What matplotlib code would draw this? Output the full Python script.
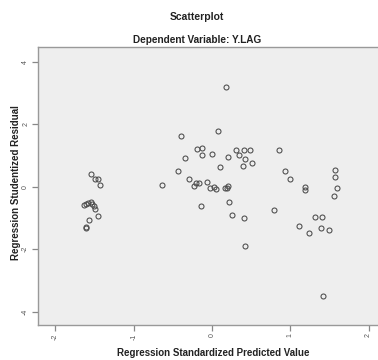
import matplotlib
matplotlib.use("Agg")
import matplotlib.pyplot as plt

# Data
pred_x = [-1.54, -1.49, -1.46, -1.43, -1.64, -1.61, -1.58, -1.55, -1.53, -1.51,
          -1.49, -1.46, -1.57, -1.61, -1.61,
          -0.64, -0.43, 0.18, 0.08, -0.40, -0.19, -0.13, -0.13, 0.00, -0.34,
          0.21, 0.31, 0.34, 0.41, 0.49, 0.42, 0.39, 0.51, 0.10,
          0.86, 0.93, 1.00, 1.57, 1.57, 1.59, 1.56, 1.19, 1.19,
          -0.30, -0.20, -0.17, -0.23, -0.06, -0.03, 0.02, 0.05, 0.17, 0.19, 0.20,
          -0.14, 0.22, 0.26, 0.41, 0.79, 1.32, 1.41,
          1.11, 1.24, 1.39, 1.49, 0.42, 1.42]
resid_y = [0.40, 0.25, 0.25, 0.04, -0.60, -0.56, -0.53, -0.50, -0.56, -0.61,
           -0.71, -0.93, -1.08, -1.29, -1.34,
           0.04, 0.49, 3.20, 1.79, 1.62, 1.21, 1.23, 1.00, 1.06, 0.92,
           0.95, 1.16, 1.02, 1.16, 1.17, 0.88, 0.67, 0.77, 0.64,
           1.16, 0.51, 0.24, 0.54, 0.31, -0.04, -0.31, 0.00, -0.11,
           0.25, 0.11, 0.13, 0.03, 0.15, -0.03, -0.01, -0.08, -0.05, -0.04, 0.03,
           -0.62, -0.49, -0.91, -1.01, -0.75, -0.96, -0.96,
           -1.26, -1.47, -1.32, -1.38, -1.89, -3.50]
x_ticks = [-2, -1, 0, 1, 2]
y_ticks = [-4, -2, 0, 2, 4]

plt.rcParams['font.family'] = ['Liberation Sans', 'DejaVu Sans']

W, H = 378, 360
fig = plt.figure(figsize=(W / 100, H / 100), dpi=100)
fig.patch.set_facecolor('white')

ax = fig.add_axes([37.5 / W, 1 - 325 / H, (W - 37.5) / W, (325 - 47) / H])
ax.set_facecolor('#eeeeee')
ax.plot(pred_x, resid_y, linestyle='none', marker='o', markersize=3.6,
        markerfacecolor='none', markeredgecolor='#4a4a4a', markeredgewidth=0.75)

ax.set_xlim(-2.229, 2.12)
ax.set_ylim(-4.43, 4.47)
ax.set_xticks(x_ticks)
ax.set_yticks(y_ticks)
ax.set_xticklabels([str(v) for v in x_ticks], rotation=90, fontsize=5, color='#555555')
ax.set_yticklabels([str(v) for v in y_ticks], rotation=90, fontsize=5, color='#555555', va='center')
ax.tick_params(direction='out', length=4, width=0.9, color='#888888', pad=2)
for side in ['left', 'bottom', 'top']:
    ax.spines[side].set_color('#999999')
    ax.spines[side].set_linewidth(1.0)
ax.spines['right'].set_visible(False)

fig.text(197 / W, 1 - 17 / H, 'Scatterplot', ha='center', va='center',
         fontsize=7.5, fontweight='bold', color='#222222')
fig.text(197 / W, 1 - 40 / H, 'Dependent Variable: Y.LAG', ha='center', va='center',
         fontsize=7.2, fontweight='bold', color='#222222')
fig.text(213 / W, 1 - 352.5 / H, 'Regression Standardized Predicted Value', ha='center',
         va='center', fontsize=7, fontweight='bold', color='#222222')
fig.text(16 / W, 1 - 182.5 / H, 'Regression Studentized Residual', ha='center',
         va='center', rotation=90, fontsize=7, fontweight='bold', color='#222222')

fig.savefig('out.png', dpi=100, facecolor='white')
